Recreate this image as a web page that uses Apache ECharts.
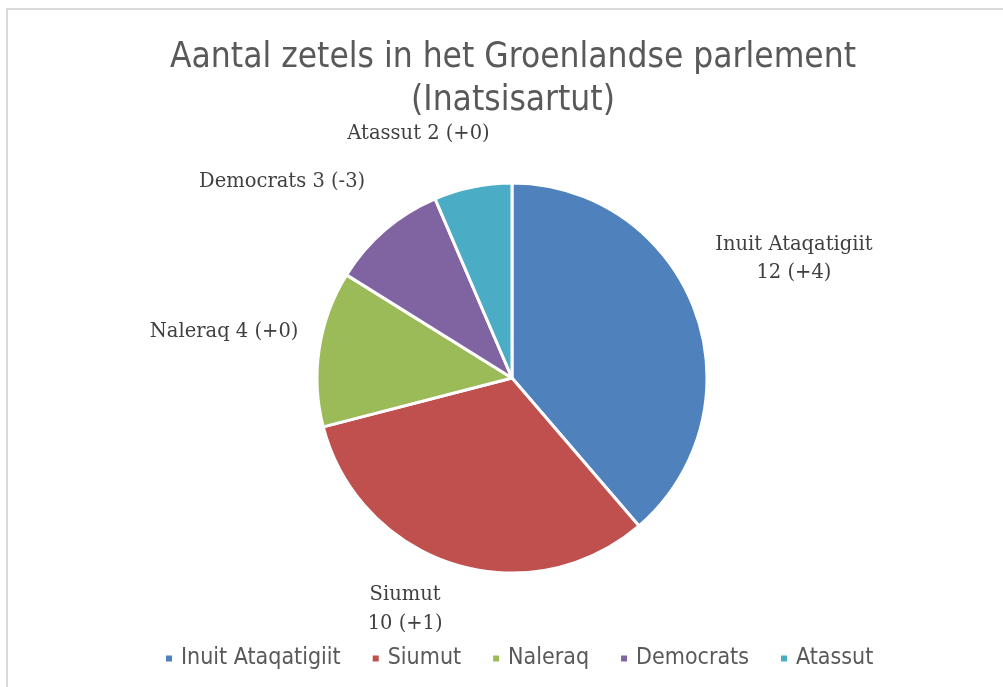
<!DOCTYPE html>
<html>
<head>
<meta charset="utf-8">
<script src="https://cdn.jsdelivr.net/npm/echarts@6/dist/echarts.min.js"></script>
<style>html,body{margin:0;padding:0;background:#fff}#c{width:1003px;height:687px}</style>
</head>
<body>
<div id="c"></div>
<script>
const titleText = 'Aantal zetels in het Groenlandse parlement\n(Inatsisartut)';
const parties = ['Inuit Ataqatigiit', 'Siumut', 'Naleraq', 'Democrats', 'Atassut'];
const seats = [12, 10, 4, 3, 2];
const changes = ['+4', '+1', '+0', '-3', '+0'];
const colors = ['#4F81BD', '#C0504D', '#9BBB59', '#8064A2', '#4BACC6'];
const labelText = [
  'Inuit Ataqatigiit\n12 (+4)',
  'Siumut\n10 (+1)',
  'Naleraq 4 (+0)',
  'Democrats 3 (-3)',
  'Atassut 2 (+0)'
];
// label nudges [dx, dy, align]
const labelShift = [[80, -46, 'center'], [-39, 31, 'center'], [-1, -14, null], [-5, -37, null], [25, -38, null]];

const chart = echarts.init(document.getElementById('c'));
chart.setOption({
  animation: false,
  backgroundColor: '#fff',
  graphic: [{
    type: 'rect',
    shape: { x: 7, y: 9, width: 1010, height: 700 },
    style: { fill: 'none', stroke: '#d9d9d9', lineWidth: 2 },
    silent: true
  }],
  title: {
    text: titleText,
    left: 508,
    textAlign: 'center',
    top: 31,
    textStyle: {
      fontFamily: 'Liberation Sans Narrow, DejaVu Sans Condensed, sans-serif',
      fontWeight: 'normal',
      fontSize: 35,
      lineHeight: 43,
      color: '#595959'
    }
  },
  legend: {
    bottom: 12,
    left: 159,
    icon: 'rect',
    itemWidth: 8,
    itemHeight: 8,
    itemGap: 30,
    textStyle: {
      fontFamily: 'Liberation Sans Narrow, DejaVu Sans Condensed, sans-serif',
      fontSize: 23,
      color: '#595959',
      padding: [0, 0, 0, 3]
    },
    data: parties
  },
  series: [{
    type: 'pie',
    center: [512, 378],
    radius: 195,
    startAngle: 90,
    clockwise: true,
    itemStyle: { borderColor: '#fff', borderWidth: 3 },
    label: {
      show: true,
      position: 'outside',
      fontFamily: 'DejaVu Serif, serif',
      fontSize: 19.5,
      lineHeight: 28.5,
      color: '#404040',
      formatter: p => labelText[p.dataIndex]
    },
    labelLine: { show: false, length: 15, length2: 0 },
    labelLayout: p => {
      const s = labelShift[p.dataIndex];
      const o = { dx: s[0], dy: s[1] };
      if (s[2]) o.align = s[2];
      return o;
    },
    data: parties.map((n, i) => ({ name: n, value: seats[i], itemStyle: { color: colors[i] } }))
  }]
});
</script>
</body>
</html>
